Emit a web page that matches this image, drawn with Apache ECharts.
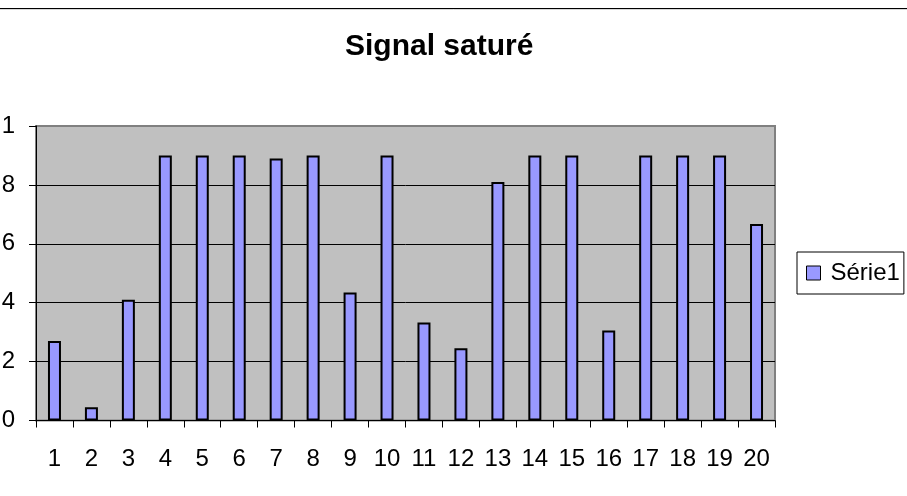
<!DOCTYPE html>
<html>
<head>
<meta charset="utf-8">
<script src="https://cdn.jsdelivr.net/npm/echarts@6/dist/echarts.min.js"></script>
<style>
  html, body { margin: 0; padding: 0; background: #ffffff; }
  #chart { width: 907px; height: 496px; }
</style>
</head>
<body>
<div id="chart"></div>
<script>
// Sample indices and measured (saturated) signal values
const categories = ['1', '2', '3', '4', '5', '6', '7', '8', '9', '10',
                    '11', '12', '13', '14', '15', '16', '17', '18', '19', '20'];
const serie1 = [0.27, 0.045, 0.41, 0.9, 0.9, 0.9, 0.89, 0.9, 0.435, 0.9,
                0.333, 0.245, 0.81, 0.9, 0.9, 0.306, 0.9, 0.9, 0.9, 0.667];
const seriesName = 'Série1';
const chartTitle = 'Signal saturé';

const FONT = 'Arial, "Liberation Sans", sans-serif';

const chart = echarts.init(document.getElementById('chart'), null, { renderer: 'canvas' });

chart.setOption({
  animation: false,
  backgroundColor: '#ffffff',
  textStyle: { fontFamily: FONT, color: '#000000' },
  title: {
    text: chartTitle,
    left: 345,
    top: 32,
    padding: 0,
    textStyle: { fontFamily: FONT, fontSize: 30, fontWeight: 'bold', color: '#000000' }
  },
  graphic: [
    { type: 'line', shape: { x1: 0, y1: 8.5, x2: 907, y2: 8.5 },
      style: { stroke: '#000000', lineWidth: 1.2 }, silent: true },
    { type: 'line', shape: { x1: 0, y1: 9.5, x2: 907, y2: 9.5 },
      style: { stroke: '#d8d8d8', lineWidth: 1 }, silent: true }
  ],
  legend: {
    data: [seriesName],
    left: 797,
    top: 252,
    orient: 'vertical',
    padding: [9, 4, 9, 9],
    backgroundColor: '#ffffff',
    borderColor: '#000000',
    borderWidth: 1,
    borderRadius: 0,
    itemWidth: 14,
    itemHeight: 14,
    icon: 'rect',
    itemStyle: { borderColor: '#000000', borderWidth: 1 },
    textStyle: { fontFamily: FONT, fontSize: 24, color: '#000000', padding: [0, 0, 0, 5] }
  },
  grid: {
    left: 36,
    right: 132,
    top: 126,
    bottom: 75.5,
    containLabel: false,
    outerBoundsMode: 'none',
    show: true,
    backgroundColor: '#c0c0c0',
    borderColor: '#808080',
    borderWidth: 2
  },
  xAxis: {
    type: 'category',
    data: categories,
    boundaryGap: true,
    axisLine: { show: true, lineStyle: { color: '#000000', width: 1 } },
    axisTick: { show: true, alignWithLabel: false, length: 7, inside: false,
                lineStyle: { color: '#000000', width: 1 } },
    axisLabel: { fontFamily: FONT, fontSize: 24, color: '#000000', margin: 27, interval: 0 },
    splitLine: { show: false }
  },
  yAxis: {
    type: 'value',
    min: 0,
    max: 1,
    interval: 0.2,
    axisLine: { show: true, lineStyle: { color: '#000000', width: 1 } },
    axisTick: { show: true, length: 7, lineStyle: { color: '#000000', width: 1 } },
    axisLabel: {
      fontFamily: FONT, fontSize: 24, color: '#000000', margin: 21,
      formatter: function (v) { return String(Math.round(v * 10) / 10).replace('.', ','); }
    },
    splitLine: {
      show: true,
      lineStyle: { color: ['#000000', '#000000', '#000000', '#000000', '#000000', 'rgba(0,0,0,0)'], width: 1 }
    }
  },
  series: [{
    name: seriesName,
    type: 'bar',
    data: serie1,
    barWidth: 13,
    itemStyle: { color: '#9999ff', borderColor: '#000000', borderWidth: 2 }
  }]
});
</script>
</body>
</html>
